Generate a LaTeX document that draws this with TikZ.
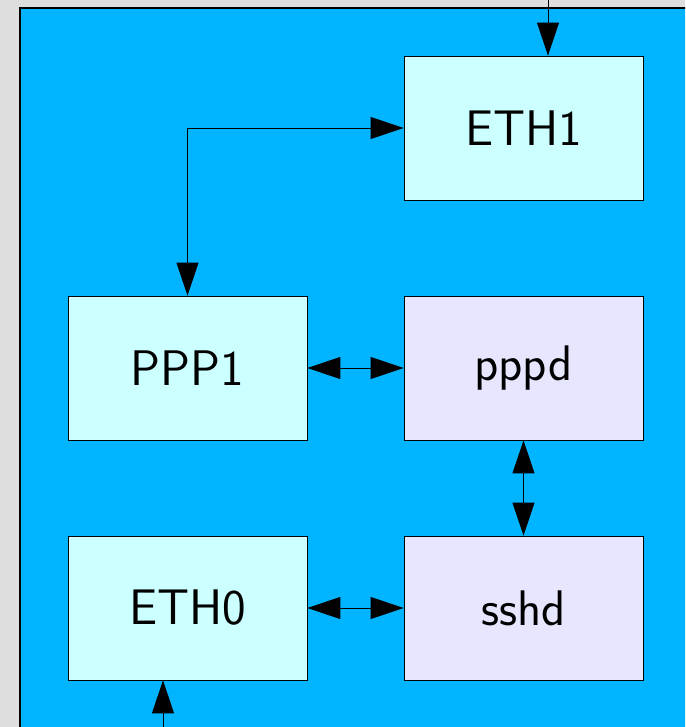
\documentclass[tikz,border=0pt]{standalone}
\usepackage{xcolor}
\usepackage{tikz}
\usetikzlibrary{arrows.meta}
\usetikzlibrary{calc, positioning}
\definecolor{panelgray}{HTML}{DEDEDE}
\definecolor{netblue}{HTML}{00B4FF}
\definecolor{ifcyan}{HTML}{CCFFFF}
\definecolor{daemonlilac}{HTML}{E6E6FF}

\begin{document}
\begin{tikzpicture}[x=1pt,y=-1pt,>={Triangle[length=33pt,width=22pt]},
                    iface node/.style={rectangle,draw,line width=0.8pt,fill=ifcyan,
                      minimum width=239pt,minimum height=144pt,inner sep=0pt,
                      font=\sffamily\fontsize{50}{56}\selectfont},
                    daemon node/.style={iface node,fill=daemonlilac},
                    link/.style={line width=0.9pt}]

%DRAWING Background and panel
 \useasboundingbox (0,0) rectangle (685,727);
 \clip (0,0) rectangle (685,727);
 \fill[panelgray] (0,0) rectangle (685,727);
 \draw[fill=netblue,line width=1.2pt] (20,8) rectangle (700,740);

%Inserting interfaces and daemons
  \node[iface node] (Eth1) at (523.5,128) {ETH1};
  \node[iface node] (Ppp1) at (187.5,368) {PPP1};
  \node[daemon node] (Pppd) at (523.5,368) {pppd};
  \node[iface node] (Eth0) at (187.5,608) {ETH0};
  \node[daemon node] (Sshd) at (523.5,608) {sshd};

  \coordinate (TopIn) at (548,0);
  \coordinate (BottomIn) at (163,727);

%Links
  \draw[link,->] (TopIn) -- (TopIn |- Eth1.north);
  \draw[link,->] (BottomIn) -- (BottomIn |- Eth0.south);
  \draw[link,<->] (Ppp1.north) |- (Eth1.west);
  \draw[link,<->] (Ppp1.east) -- (Pppd.west);
  \draw[link,<->] (Pppd.south) -- (Sshd.north);
  \draw[link,<->] (Eth0.east) -- (Sshd.west);

\end{tikzpicture}
\end{document}
